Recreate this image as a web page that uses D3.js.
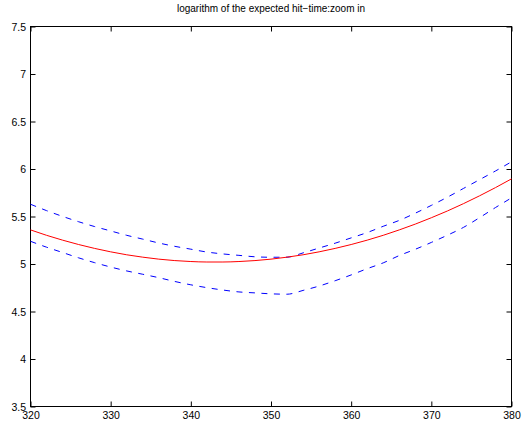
<!DOCTYPE html>
<html>
<head>
<meta charset="utf-8">
<script src="https://cdn.jsdelivr.net/npm/d3@7"></script>
<style>
    html, body { margin: 0; padding: 0; background: #fff; }
    #chart { width: 531px; height: 423px; }
    text { font-family: "Liberation Sans", Arial, Helvetica, sans-serif; }
</style>
</head>
<body>
<div id="chart"></div>
<script>
// expected hit-time, zoomed in

const xValues = [320, 322, 324, 326, 328, 330, 332, 334, 336, 338, 340, 342, 344, 346, 348, 350,
    352, 354, 356, 358, 360, 362, 364, 366, 368, 370, 372, 374, 376, 378, 380];

const meanValues = [5.359, 5.302, 5.251, 5.205, 5.164, 5.128, 5.097, 5.072, 5.051, 5.036, 5.026, 5.021,
    5.021, 5.026, 5.036, 5.051, 5.072, 5.097, 5.128, 5.164, 5.205, 5.251, 5.302, 5.359, 5.420, 5.487,
    5.558, 5.635, 5.717, 5.804, 5.896];

const upperValues = [5.629, 5.562, 5.501, 5.445, 5.394, 5.348, 5.302, 5.262, 5.221, 5.186, 5.156, 5.126,
    5.106, 5.091, 5.076, 5.071, 5.072, 5.117, 5.168, 5.219, 5.275, 5.331, 5.397, 5.459, 5.535, 5.617,
    5.703, 5.795, 5.887, 5.979, 6.076];

const lowerValues = [5.239, 5.177, 5.121, 5.065, 5.014, 4.968, 4.927, 4.892, 4.856, 4.816, 4.781, 4.751,
    4.726, 4.706, 4.696, 4.686, 4.682, 4.722, 4.768, 4.824, 4.885, 4.951, 5.012, 5.089, 5.155, 5.227,
    5.303, 5.385, 5.487, 5.594, 5.696];

const xTicks = [320, 330, 340, 350, 360, 370, 380];
const yTicks = [3.5, 4, 4.5, 5, 5.5, 6, 6.5, 7, 7.5];

const titleText = 'logarithm of the expected hit\u2212time:zoom in';

function drawChart() {
    const margin = { top: 26.5, right: 19.5, bottom: 16.5, left: 30.5 };
    const width = 531 - margin.left - margin.right;
    const height = 423 - margin.top - margin.bottom;

    const svg = d3.select('#chart').append('svg')
        .attr('width', 531)
        .attr('height', 423)
        .append('g')
        .attr('transform', `translate(${margin.left},${margin.top})`);

    // Scales
    const x = d3.scaleLinear()
        .domain([320, 380])
        .range([0, width]);

    const y = d3.scaleLinear()
        .domain([3.5, 7.5])
        .range([height, 0]);

    // Axes (ticks inside, matlab style)
    const tickLen = 5;

    svg.append('g')
        .attr('class', 'axis x-axis')
        .attr('transform', `translate(0,${height})`)
        .call(d3.axisBottom(x).tickValues(xTicks).tickSizeInner(-tickLen).tickSizeOuter(0));

    svg.append('g')
        .attr('class', 'axis')
        .call(d3.axisTop(x).tickValues(xTicks).tickSizeInner(-tickLen).tickSizeOuter(0).tickFormat(''));

    svg.append('g')
        .attr('class', 'axis y-axis')
        .call(d3.axisLeft(y).tickValues(yTicks).tickSizeInner(-tickLen).tickSizeOuter(0)
            .tickFormat(d3.format('')));

    svg.append('g')
        .attr('class', 'axis')
        .attr('transform', `translate(${width},0)`)
        .call(d3.axisRight(y).tickValues(yTicks).tickSizeInner(-tickLen).tickSizeOuter(0).tickFormat(''));

    svg.selectAll('.axis .domain').remove();
    svg.selectAll('.axis line').attr('stroke', '#000');
    svg.selectAll('.axis text')
        .attr('fill', '#000')
        .attr('font-size', '10.5px')
        .attr('font-family', '"Liberation Sans", Arial, sans-serif');

    // label positions
    svg.selectAll('.x-axis text')
        .attr('y', 12.8)
        .attr('dy', 0);

    svg.selectAll('.y-axis text')
        .attr('x', -4.5)
        .attr('dy', '0.35em');

    // Box
    svg.append('rect')
        .attr('x', 0)
        .attr('y', 0)
        .attr('width', width)
        .attr('height', height)
        .attr('fill', 'none')
        .attr('stroke', '#000')
        .attr('stroke-width', 1);

    // Lines
    const line = vals => d3.line()
        .x((d, i) => x(xValues[i]))
        .y(d => y(d))
        .curve(d3.curveMonotoneX)(vals);

    svg.append('path')
        .attr('d', line(upperValues))
        .attr('fill', 'none')
        .attr('stroke', '#0000ff')
        .attr('stroke-width', 1)
        .attr('stroke-dasharray', '6,6.5');

    svg.append('path')
        .attr('d', line(lowerValues))
        .attr('fill', 'none')
        .attr('stroke', '#0000ff')
        .attr('stroke-width', 1)
        .attr('stroke-dasharray', '6,6.5');

    svg.append('path')
        .attr('d', line(meanValues))
        .attr('fill', 'none')
        .attr('stroke', '#ff0000')
        .attr('stroke-width', 1);

    // Title
    svg.append('text')
        .attr('x', width / 2)
        .attr('y', -14.5)
        .attr('text-anchor', 'middle')
        .attr('fill', '#000')
        .attr('font-size', '10px')
        .text(titleText);
}

drawChart();
</script>
</body>
</html>
